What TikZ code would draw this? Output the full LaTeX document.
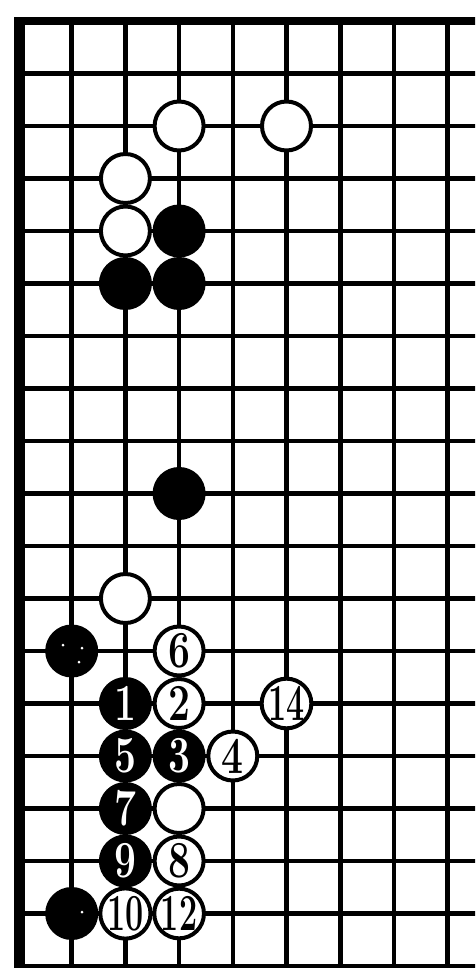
\documentclass[tikz,border=0pt]{standalone}
\usepackage{graphicx}
\tikzset{
  gridline/.style={line width=4.6pt},
  stone/.style={circle, line width=4pt, minimum size=49pt, inner sep=0pt,
    font=\fontsize{52}{52}\selectfont\bfseries},
  wstone/.style={stone, draw=black, fill=white, text=black},
  bstone/.style={stone, draw=black, fill=black, text=white},
  speck/.style={circle, fill=white, inner sep=0pt, minimum size=3pt}
}
\newcommand\oned[1]{\scalebox{0.75}[1]{#1}}
\newcommand\twod[1]{\scalebox{0.62}[1]{#1}}
\begin{document}
\begin{tikzpicture}[x=1pt,y=-1pt]
\useasboundingbox (0,0) rectangle (475,968);
\clip (0,0) rectangle (475,968);
\fill[white] (0,0) rectangle (475,968);
% board edges
\fill[black] (14,17) rectangle (25,970);
\fill[black] (14,17) rectangle (477,25);
% grid
\foreach \i in {1,...,8} \draw[gridline] ({18+53.7*\i},21) -- ({18+53.7*\i},972);
\foreach \j in {1,...,18} \draw[gridline] (18,{21+52.5*\j}) -- (478,{21+52.5*\j});
% stones
\node[wstone] (wa) at (179.1,126) {};
\node[wstone] (wb) at (286.5,126) {};
\node[wstone] (wc) at (125.4,178.5) {};
\node[wstone] (wd) at (125.4,231) {};
\node[bstone] (ba) at (179.1,231) {};
\node[bstone] (bb) at (125.4,283.5) {};
\node[bstone] (bc) at (179.1,283.5) {};
\node[bstone] (bd) at (179.1,493.5) {};
\node[wstone] (we) at (125.4,598.5) {};
\node[bstone] (b13) at (71.7,651) {};
\node[wstone] (w6) at (179.1,651) {\oned{6}};
\node[bstone] (b1) at (125.4,703.5) {\oned{1}};
\node[wstone] (w2) at (179.1,703.5) {\oned{2}};
\node[wstone] (w14) at (286.5,703.5) {\twod{14}};
\node[bstone] (b5) at (125.4,756) {\oned{5}};
\node[bstone] (b3) at (179.1,756) {\oned{3}};
\node[wstone] (w4) at (232.8,756) {\oned{4}};
\node[bstone] (b7) at (125.4,808.5) {\oned{7}};
\node[wstone] (wf) at (179.1,808.5) {};
\node[bstone] (b9) at (125.4,861) {\oned{9}};
\node[wstone] (w8) at (179.1,861) {\oned{8}};
\node[bstone] (b11) at (71.7,913.5) {};
\node[wstone] (w10) at (125.4,913.5) {\twod{10}};
\node[wstone] (w12) at (179.1,913.5) {\twod{12}};
% specks on unnumbered black stones
\node[speck] (s1) at (63,645) {};
\node[speck] (s2) at (82,648) {};
\node[speck] (s3) at (79,662) {};
\node[speck] (s4) at (82,912) {};
\end{tikzpicture}
\end{document}
